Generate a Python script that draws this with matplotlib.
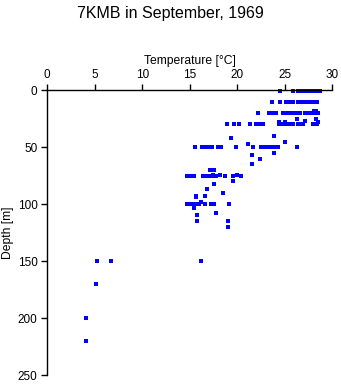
import matplotlib
matplotlib.use('Agg')
import matplotlib.pyplot as plt

plt.rcParams['font.family'] = ['Liberation Sans', 'DejaVu Sans']

# temperature [C] and depth [m] of each sample
temp = [24.5, 25.9, 26.4, 26.6, 26.8, 27.1, 27.4, 27.8, 28.1, 28.4, 28.7,
        23.6, 24.5, 25.1, 25.4, 25.6, 25.9, 26.4, 26.7, 27.0, 27.3, 27.6, 27.9, 28.2, 28.4,
        28.1, 28.3,
        22.2, 23.3, 23.7, 24.1, 24.8, 25.1, 25.4, 25.8, 26.0, 26.3, 26.6, 27.1, 27.4, 27.7, 28.0, 28.3, 28.5,
        26.3, 28.3, 27.1,
        24.4, 25.0, 28.5,
        18.9, 19.6, 20.2, 21.3, 22.0, 22.4, 22.7, 24.4, 24.8, 25.2, 25.7, 25.9, 26.4, 26.7, 26.9, 28.0, 28.4,
        23.9, 19.3, 21.1, 25.0,
        15.5, 16.3, 16.6, 17.0, 17.3, 18.0, 18.3, 19.9, 21.7, 22.5, 22.9, 23.3, 23.6, 24.0, 24.3, 26.3,
        23.9, 21.5, 22.4, 21.5,
        17.1, 17.5, 17.4, 18.2, 20.0,
        14.7, 15.0, 15.4, 16.4, 16.7, 17.0, 17.3, 17.8, 18.7, 19.5, 20.4,
        19.5, 17.5, 16.8, 18.5, 15.6, 16.6, 15.7, 16.2,
        14.7, 15.0, 15.4, 15.7, 16.0, 16.6, 17.2, 17.5, 19.1,
        15.4, 17.8, 15.8, 15.8, 19.0, 19.0,
        5.2, 6.7, 16.2, 5.1, 4.1, 4.1]
depth = [1, 1, 1, 1, 1, 1, 1, 1, 1, 1, 1,
         10, 10, 10, 10, 10, 10, 10, 10, 10, 10, 10, 10, 10, 10,
         18, 18,
         20, 20, 20, 20, 20, 20, 20, 20, 20, 20, 20, 20, 20, 20, 20, 20, 20,
         25, 25, 27,
         28, 28, 28,
         30, 30, 30, 30, 30, 30, 30, 30, 30, 30, 30, 30, 30, 30, 30, 30, 30,
         40, 42, 47, 45,
         50, 50, 50, 50, 50, 50, 50, 50, 50, 50, 50, 50, 50, 50, 50, 50,
         55, 57, 60, 65,
         70, 70, 74, 74, 74,
         75, 75, 75, 75, 75, 75, 75, 75, 75, 75, 75,
         80, 82, 87, 90, 93, 93, 94, 98,
         100, 100, 100, 100, 100, 100, 100, 100, 100,
         103, 108, 109, 115, 115, 120,
         150, 150, 150, 170, 200, 220]

fig = plt.figure(figsize=(3.41, 3.84), dpi=100)
ax = fig.add_axes([0.1387, 0.0227, 0.8358, 0.7422])

ax.plot(temp, depth, 's', color='#0000ff', markersize=2.4, markeredgewidth=0,
        clip_on=False, antialiased=False)

ax.set_xlim(0, 30)
ax.set_ylim(250, 0)
ax.set_xticks([0, 5, 10, 15, 20, 25, 30])
ax.set_yticks([0, 50, 100, 150, 200, 250])
ax.xaxis.tick_top()
ax.xaxis.set_label_position('top')
ax.spines['right'].set_visible(False)
ax.spines['bottom'].set_visible(False)
ax.spines['top'].set_linewidth(1.0)
ax.spines['left'].set_linewidth(1.0)
ax.tick_params(length=4, width=1.0, labelsize=8.5, pad=3)

ax.set_xlabel('Temperature [\u00b0C]', fontsize=8.7, labelpad=3)
ax.set_ylabel('Depth [m]', fontsize=8.7, labelpad=3)
fig.suptitle('7KMB in September, 1969', fontsize=11.5, y=0.985)

fig.savefig('out.png', dpi=100)
